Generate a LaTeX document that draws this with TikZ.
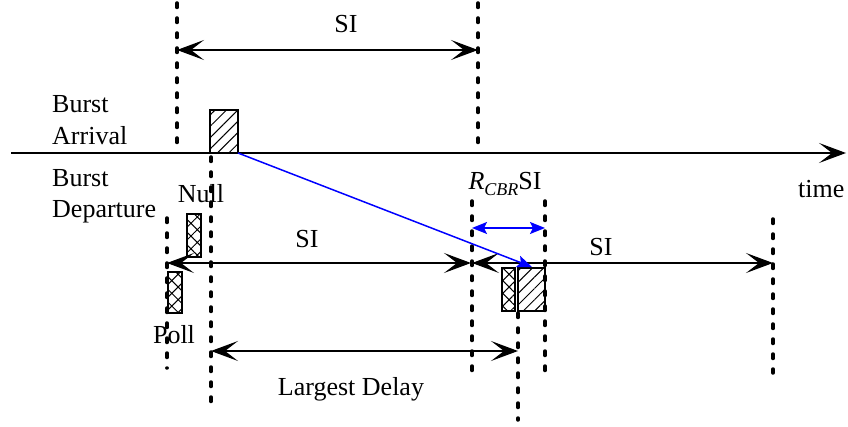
\documentclass[tikz,border=0pt]{standalone}
\usepackage{fontspec}
\setmainfont{Liberation Serif}
\usetikzlibrary{arrows.meta,patterns.meta}
\begin{document}
\begin{tikzpicture}[x=1pt,y=-1pt,
  txt/.style={font=\fontsize{26}{31}\selectfont, inner sep=0pt},
  dots/.style={line width=3.5pt, dash pattern=on 4.5pt off 10.5pt, line cap=round},
  blk/.style={line width=1.3pt},
  bighead/.tip={Stealth[length=27pt,width=20pt,inset=13pt]},
  bluehead/.tip={Stealth[length=15pt,width=12pt,inset=3pt]},
  dbl/.style={blk, bighead-bighead},
  bdbl/.style={blue, line width=1.5pt, bluehead-bluehead},
  boxbase/.style={draw, line width=1.3pt, inner sep=0pt, outer sep=0pt, anchor=north west},
  hatchbox/.style={boxbase, pattern={Lines[angle=45,distance=8pt,line width=1pt]}},
  crossbox/.style={boxbase, pattern={Hatch[angle=45,distance=9pt,line width=1pt]}}
]
\useasboundingbox (0,0) rectangle (848,427);

% dotted vertical lines
\coordinate (d1t) at (177,3);   \coordinate (d1b) at (177,146);
\coordinate (d2t) at (478,3);   \coordinate (d2b) at (478,146);
\coordinate (d3t) at (211,157); \coordinate (d3b) at (211,405);
\coordinate (d4t) at (167,218); \coordinate (d4b) at (167,368);
\coordinate (d5t) at (472,201); \coordinate (d5b) at (472,372);
\coordinate (d6t) at (545,201); \coordinate (d6b) at (545,372);
\coordinate (d7t) at (518,313); \coordinate (d7b) at (518,420);
\coordinate (d8t) at (773,219); \coordinate (d8b) at (773,373);
\foreach \i in {1,...,8} \draw[dots] (d\i t) -- (d\i b);

% time axis
\coordinate (axS) at (11,153);
\coordinate (axE) at (846,153);
\draw[blk,-bighead] (axS) -- (axE);

% boxes
\node[hatchbox, minimum width=28pt, minimum height=43pt] (arr) at (210,110) {};
\node[crossbox, minimum width=14pt, minimum height=43pt] (nullbox) at (187,214) {};
\node[crossbox, minimum width=14pt, minimum height=41pt] (pollbox) at (168,272) {};
\node[crossbox, minimum width=13pt, minimum height=43pt] (depX) at (502,268) {};
\node[hatchbox, minimum width=27pt, minimum height=43pt] (depH) at (518,268) {};

% arrows
\coordinate (siA) at (177,50);  \coordinate (siB) at (478,50);
\draw[dbl] (siA) -- (siB);
\coordinate (smA) at (167,263); \coordinate (smB) at (471,263);
\draw[dbl] (smA) -- (smB);
\coordinate (srA) at (472,263); \coordinate (srB) at (773,263);
\draw[dbl] (srA) -- (srB);
\coordinate (ldA) at (211,351); \coordinate (ldB) at (518,351);
\draw[dbl] (ldA) -- (ldB);
\coordinate (rcA) at (472,228); \coordinate (rcB) at (545,228);
\draw[bdbl] (rcA) -- (rcB);
\coordinate (blT) at (532,267);
\draw[blue, line width=1.5pt, -bluehead] (arr.south east) -- (blT);

% labels
\node[txt,anchor=base] (siTop) at (346,33) {SI};
\node[txt,anchor=base west] (ba1) at (52,113) {Burst};
\node[txt,anchor=base west] (ba2) at (52,145) {Arrival};
\node[txt,anchor=base west] (bd1) at (52,187) {Burst};
\node[txt,anchor=base west] (bd2) at (52,218) {Departure};
\node[txt,anchor=base] (nulltxt) at (201,203) {Null};
\node[txt,anchor=base] (polltxt) at (174,343) {Poll};
\node[txt,anchor=base] (siMid) at (307,248) {SI};
\node[txt,anchor=base] (siR) at (601,256) {SI};
\node[txt,anchor=base] (rcbr) at (505,190) {\itshape R\raisebox{-0.22em}{\fontsize{18}{18}\selectfont CBR}\upshape SI};
\node[txt,anchor=base west] (time) at (798,198) {time};
\node[txt,anchor=base] (ld) at (351,395) {Largest Delay};
\end{tikzpicture}
\end{document}
